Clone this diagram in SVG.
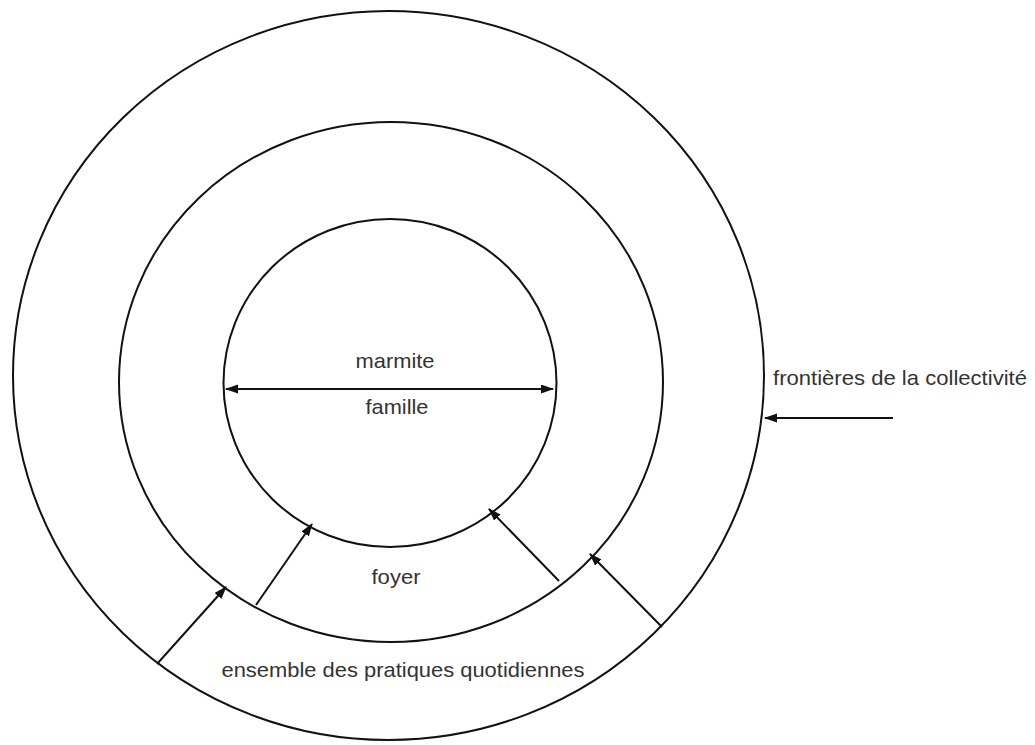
<svg xmlns="http://www.w3.org/2000/svg" width="1035" height="745" viewBox="0 0 1035 745">
<style>
.ring{fill:none;stroke:#111;stroke-width:2}
.arr{fill:none;stroke:#111;stroke-width:2}
.lbl{font-family:"Liberation Sans",Arial,sans-serif;font-size:21px;fill:#333}
</style>
<defs>
<marker id="ah" markerUnits="userSpaceOnUse" markerWidth="14" markerHeight="10" refX="12" refY="4.5" orient="auto-start-reverse">
<path d="M0,0 L13,4.5 L0,9 Z" fill="#111"/>
</marker>
</defs>
<rect width="1035" height="745" fill="#fff"/>
<g id="collectivite">
<ellipse class="ring" cx="388.5" cy="375.5" rx="375.5" ry="364.5"/>
<text class="lbl" x="773" y="385" textLength="254" lengthAdjust="spacingAndGlyphs">frontières de la collectivité</text>
<text class="lbl" x="403" y="677" text-anchor="middle" textLength="363" lengthAdjust="spacingAndGlyphs">ensemble des pratiques quotidiennes</text>
</g>
<g id="foyer">
<ellipse class="ring" cx="391" cy="382" rx="272" ry="260"/>
<text class="lbl" x="396" y="584" text-anchor="middle" textLength="49" lengthAdjust="spacingAndGlyphs">foyer</text>
</g>
<g id="marmite">
<ellipse class="ring" cx="390" cy="383" rx="166.5" ry="164"/>
<text class="lbl" x="395" y="368" text-anchor="middle" textLength="79" lengthAdjust="spacingAndGlyphs">marmite</text>
<text class="lbl" x="397" y="414" text-anchor="middle" textLength="63" lengthAdjust="spacingAndGlyphs">famille</text>
</g>
<g id="connectors">
<line class="arr" x1="226" y1="389" x2="553" y2="389" marker-start="url(#ah)" marker-end="url(#ah)"/>
<line class="arr" x1="893" y1="418" x2="765" y2="418" marker-end="url(#ah)"/>
<line class="arr" x1="157" y1="664" x2="226" y2="587" marker-end="url(#ah)"/>
<line class="arr" x1="256" y1="605" x2="312" y2="524" marker-end="url(#ah)"/>
<line class="arr" x1="559" y1="581" x2="489" y2="509" marker-end="url(#ah)"/>
<line class="arr" x1="662" y1="627" x2="590" y2="554" marker-end="url(#ah)"/>
</g>
</svg>
